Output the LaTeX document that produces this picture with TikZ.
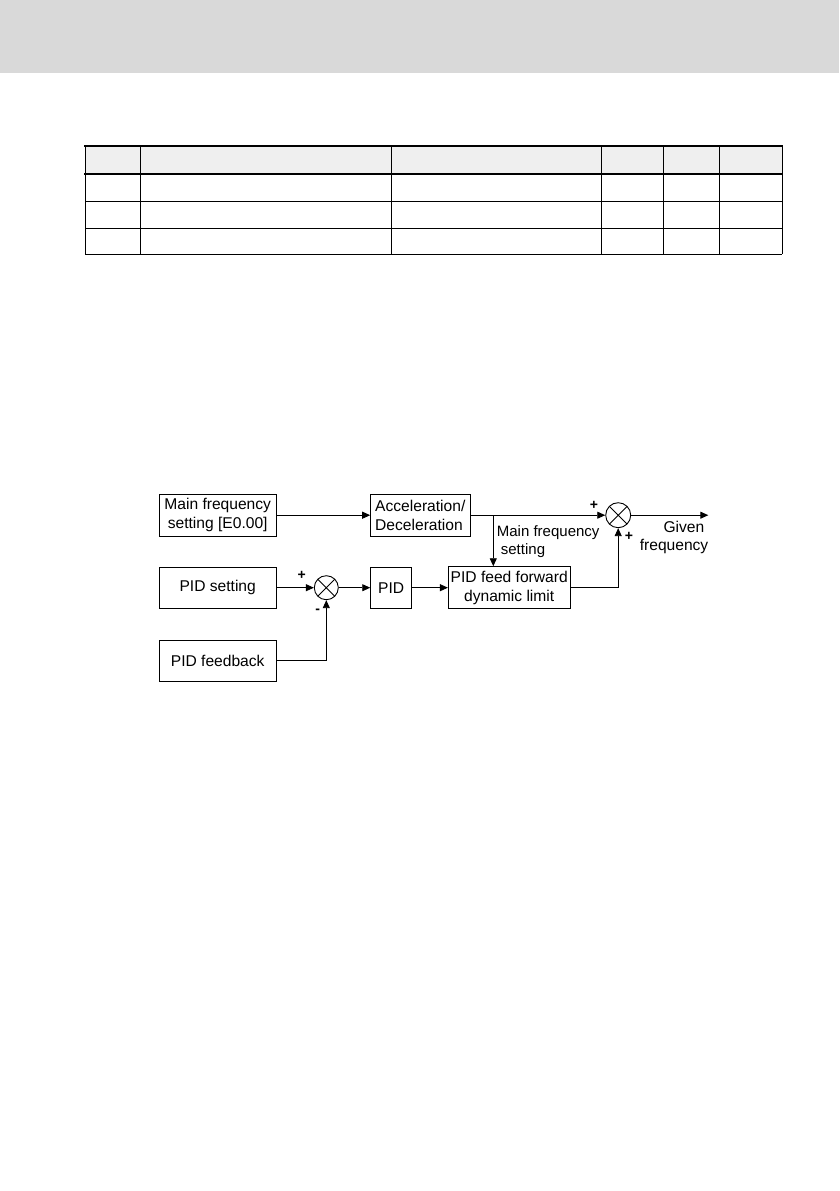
\documentclass[tikz,border=0pt]{standalone}
\usepackage{fontspec}
\setmainfont{Liberation Sans}
\usetikzlibrary{arrows.meta, positioning, calc}
\definecolor{cband}{HTML}{d9d9d9}
\definecolor{chead}{HTML}{efefef}

\begin{document}
\begin{tikzpicture}[
  x=1pt, y=-1pt,
  font=\fontsize{15.6}{18.7}\selectfont,
  blk/.style={draw, line width=0.9pt, inner sep=2pt, minimum height=41.5pt, align=center},
  sum/.style={draw, circle, line width=0.9pt, minimum size=24pt, inner sep=0pt,
    path picture={\draw[line width=0.9pt]
      (path picture bounding box.north west) -- (path picture bounding box.south east)
      (path picture bounding box.north east) -- (path picture bounding box.south west);}},
  sign/.style={font=\fontsize{14}{14}\selectfont\bfseries, inner sep=0pt},
  arr/.style={line width=0.9pt, -{Triangle[length=8pt, width=7pt]}},
  ]
\useasboundingbox (0,0) rectangle (839,1191);
\fill[cband] (0,0) rectangle (839,73.3);
\fill[chead] (85.3,146.3) rectangle (782.3,174.3);
\foreach \y in {201.3, 228.3, 254.3}
  \draw[line width=0.9pt] (85.3,\y) -- (782.3,\y);
\foreach \x in {85.3, 140.3, 391.5, 601.3, 663.3, 719.3, 782.3}
  \draw[line width=0.9pt] (\x,146.3) -- (\x,254.3);
\foreach \y in {146.3, 174.3}
  \draw[line width=2pt] (84.3,\y) -- (783.3,\y);

\node[blk, minimum width=116.7pt] (mainf) at (217.7,515.2) {Main frequency\\setting [E0.00]};
\node[blk, minimum width=99.3pt, align=left] (accel) at (420.3,515.2) {Acceleration/\\Deceleration};
\node[blk, minimum width=116.7pt] (pidset) at (217.7,587.7) {PID setting};
\node[blk, minimum width=116.7pt, minimum height=40.7pt] (pidfb) at (217.7,660.7) {PID feedback};
\node[blk, minimum width=41pt] (pid) at (391.2,587.7) {PID};
\node[blk, minimum width=121.7pt, minimum height=42pt] (pidff) at (509.2,587.7) {PID feed forward\\dynamic limit};
\node[sum] (sum1) at (326.3,587.7) {};
\node[sum, minimum size=25pt] (sum2) at (618.2,515.2) {};
\coordinate (br) at (493.3,515.2);
\coordinate (out) at (708.3,515.2);

\node[anchor=west, align=left, inner sep=0pt, font=\fontsize{15}{18}\selectfont] (mflbl)
  at (496.7,542) {Main frequency\\\hspace*{4pt}setting};
\node[anchor=east, align=right, inner sep=0pt] (given) at (708.5,537.5) {Given\kern4pt\\frequency};
\node[sign] (p1) at (301.7,575.7) {+};
\node[sign] (m1) at (317.7,611.7) {-};
\node[sign] (p2) at (594,505) {+};
\node[sign] (p3) at (629,536) {+};

\draw[arr] (mainf) -- (accel);
\draw[arr] (accel) -- (sum2);
\draw[arr] (br) -- (br |- pidff.north);
\draw[arr] (pidset) -- (sum1);
\draw[arr] (pidfb) -| (sum1);
\draw[arr] (sum1) -- (pid);
\draw[arr] (pid) -- (pidff);
\draw[arr] (pidff) -| (sum2);
\draw[arr] (sum2) -- (out);
\end{tikzpicture}
\end{document}
